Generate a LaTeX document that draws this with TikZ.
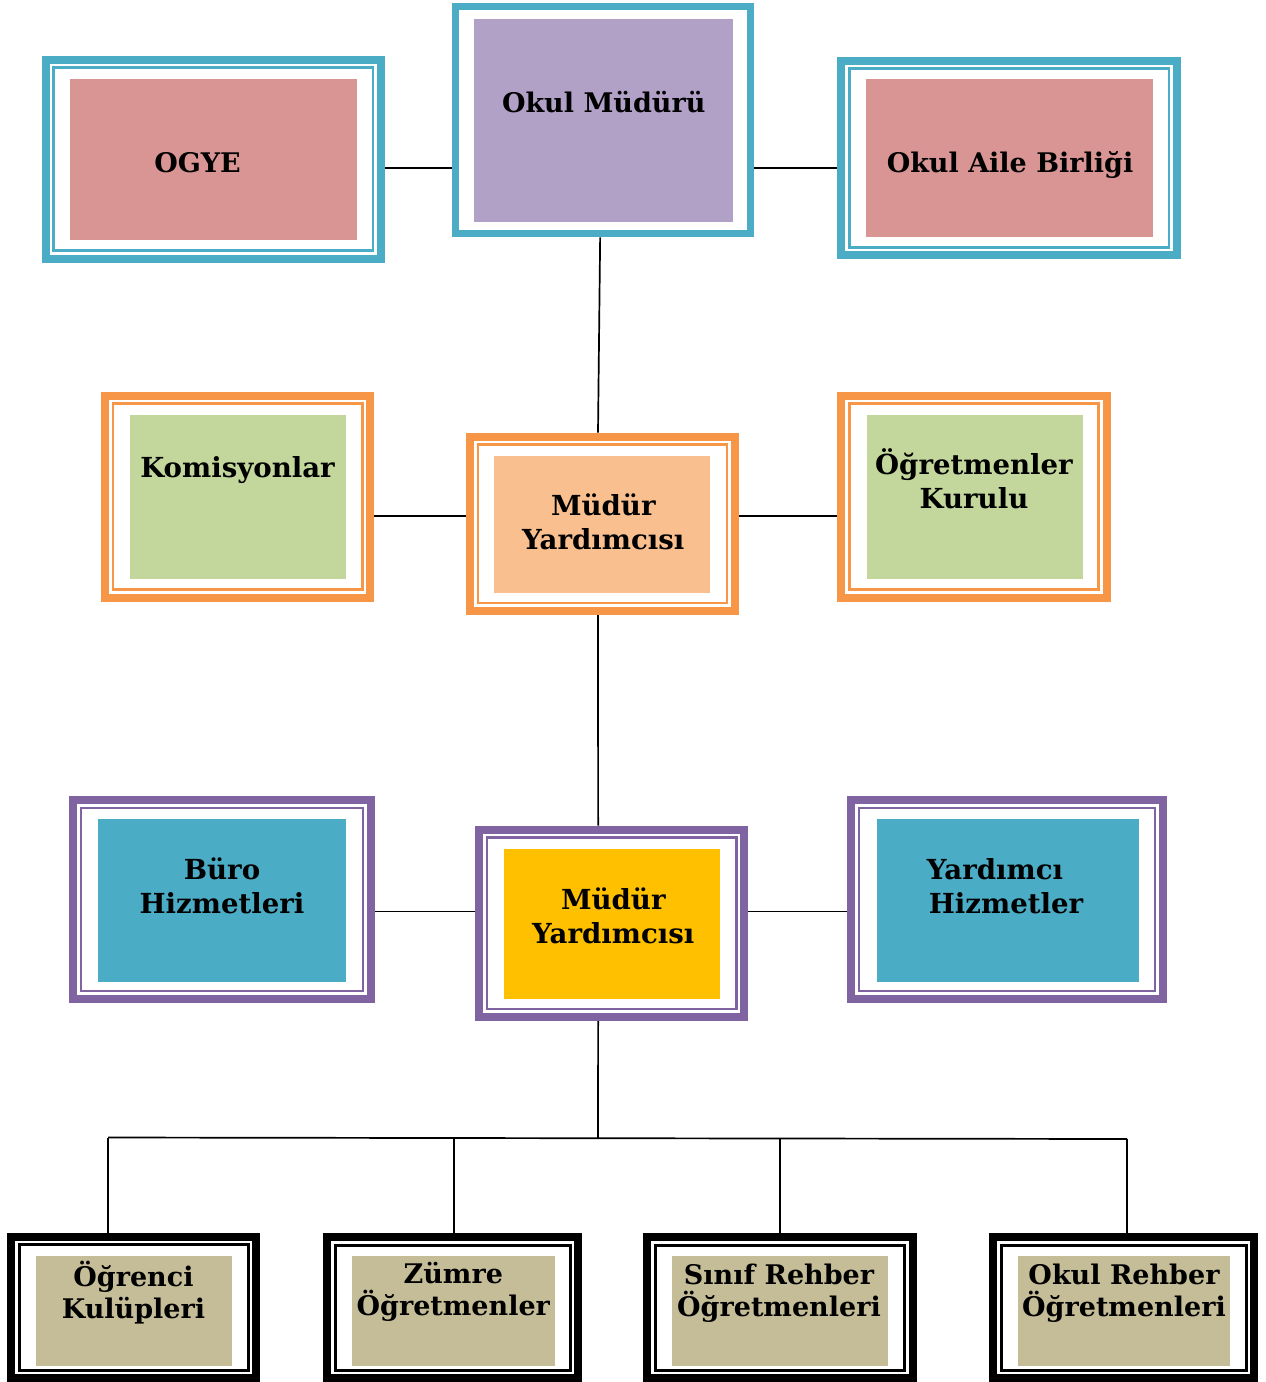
\documentclass[tikz,border=0pt]{standalone}
\usepackage{fontspec}
\setmainfont{DejaVu Serif}
\usetikzlibrary{calc}
\definecolor{frblue}{HTML}{4BACC6}
\definecolor{frorange}{HTML}{F79646}
\definecolor{frpurple}{HTML}{8064A2}
\definecolor{fipink}{HTML}{D99594}
\definecolor{filav}{HTML}{B2A1C7}
\definecolor{fipeach}{HTML}{FABF8F}
\definecolor{figreen}{HTML}{C3D69B}
\definecolor{fiyellow}{HTML}{FFC000}
\definecolor{fiblue}{HTML}{4BACC6}
\definecolor{fitan}{HTML}{C4BD97}
\newcommand\dframe[7]{%
  \node[draw=#6, line width=8pt, inner sep=0pt, minimum width={#4-#2-8}, minimum height={#5-#3-8}] (#1) at ({(#2+#4)/2},{(#3+#5)/2}) {};
  \node[draw=#6, line width=#7, inner sep=0pt, minimum width={#4-#2-24}, minimum height={#5-#3-24}] (#1-in) at (#1.center) {};
}
\newcommand\fillbox[6]{%
  \node[fill=#6, inner sep=0pt, minimum width={#4-#2}, minimum height={#5-#3}] (#1) at ({(#2+#4)/2},{(#3+#5)/2}) {};
}
\begin{document}
\begin{tikzpicture}[x=1pt,y=-1pt,
  lbl/.style={font=\fontsize{27}{33.5}\selectfont\bfseries, align=center, inner sep=0pt},
  lblm/.style={font=\fontsize{27.6}{33.5}\selectfont\bfseries, align=center, inner sep=0pt},
  lblb/.style={font=\fontsize{27}{32}\selectfont\bfseries, align=center, inner sep=0pt},
  conn/.style={line width=1.7pt, black}]
\fill[white] (0,0) rectangle (1266,1382);
\useasboundingbox (0,0) rectangle (1266,1382);

% ---- top row
\dframe{ogyeF}{41.7}{55.7}{385}{262.7}{frblue}{2.7pt}
\fillbox{ogyeB}{70}{79}{356.7}{240}{fipink}
\node[lbl] (ogye) at (197.5,162.2) {OGYE};

\node[draw=frblue, line width=7pt, inner sep=0pt, minimum width={754-452.3-7}, minimum height={237.3-3.3-7}] (mudurF) at ({(452.3+754)/2},{(3.3+237.3)/2}) {};
\fillbox{mudurB}{474}{19}{733}{221.7}{filav}
\node[lbl] (mudur) at (603.7,102) {Okul Müdürü};

\dframe{aileF}{837.3}{56.7}{1181}{259.3}{frblue}{2.7pt}
\fillbox{aileB}{866}{79}{1153}{236.7}{fipink}
\node[lbl] (aile) at (1010,164.7) {Okul Aile Birliği};

% ---- middle row
\dframe{komF}{101}{391.7}{374.3}{601.7}{frorange}{2.7pt}
\fillbox{komB}{130}{415}{346}{579}{figreen}
\node[lblm] (kom) at (237.5,469.7) {Komisyonlar};

\dframe{myaF}{466}{432.7}{739}{615}{frorange}{2.7pt}
\fillbox{myaB}{494}{455.7}{710}{592.7}{fipeach}
\node[lblm] (mya) at (603.3,522) {Müdür\\Yardımcısı};

\dframe{okF}{837.3}{391.7}{1110.7}{601.7}{frorange}{2.7pt}
\fillbox{okB}{866.7}{415}{1082.7}{579}{figreen}
\node[lblm] (ok) at (974,478.7) {Öğretmenler\\Kurulu};

% ---- third row
\dframe{buroF}{69}{796}{375}{1003}{frpurple}{2.7pt}
\fillbox{buroB}{98}{819}{346}{982}{fiblue}
\node[lblm] (buro) at (222,886) {Büro\\Hizmetleri};

\dframe{mybF}{475}{825.7}{748.3}{1021}{frpurple}{2.7pt}
\fillbox{mybB}{504}{849}{720}{999}{fiyellow}
\node[lblm] (myb) at (613.3,915.8) {Müdür\\Yardımcısı};

\dframe{yhF}{847}{796}{1167}{1003}{frpurple}{2.7pt}
\fillbox{yhB}{877}{819}{1139}{982}{fiblue}
\node[lblm] (yh) at (1006,886) {Yardımcı\hspace*{22pt}\\Hizmetler};

% ---- bottom row
\dframe{b1F}{7.3}{1232.7}{260}{1382}{black}{3pt}
\fillbox{b1B}{36}{1255.7}{232}{1365.7}{fitan}
\node[lblb] (b1) at (133.5,1293) {Öğrenci\\Kulüpleri};

\dframe{b2F}{323.3}{1233.3}{582.3}{1382}{black}{3pt}
\fillbox{b2B}{352.3}{1256}{555}{1365.7}{fitan}
\node[lblb] (b2) at (453.3,1292) {Zümre\\Öğretmenler};

\dframe{b3F}{643.3}{1233.3}{916.7}{1382}{black}{3pt}
\fillbox{b3B}{672.3}{1256}{887.7}{1365.7}{fitan}
\node[lblb] (b3) at (779,1293) {Sınıf Rehber\\Öğretmenleri};

\dframe{b4F}{989.3}{1233.3}{1258.3}{1382}{black}{3pt}
\fillbox{b4B}{1017.7}{1255.7}{1230}{1365.7}{fitan}
\node[lblb] (b4) at (1124,1293.3) {Okul Rehber\\Öğretmenleri};

% ---- connectors
\coordinate (ly1) at (0,168);
\coordinate (ly2) at (0,515.7);
\coordinate (ly3) at (0,911.5);
\draw[conn] (ogyeF.east |- ly1) -- (mudurF.west |- ly1);
\draw[conn] (mudurF.east |- ly1) -- (aileF.west |- ly1);
\draw[conn] (komF.east |- ly2) -- (myaF.west |- ly2);
\draw[conn] (myaF.east |- ly2) -- (okF.west |- ly2);
\draw[conn] (buroF.east |- ly3) -- (mybF.west |- ly3);
\draw[conn] (mybF.east |- ly3) -- (yhF.west |- ly3);
\draw[conn] ([xshift=-3pt]mudurF.south) -- ([xshift=-4.5pt]myaF.north);
\draw[conn] ([xshift=-4.5pt]myaF.south) -- ([xshift=-13.5pt]mybF.north);
\coordinate (bar) at (598,1138);
\coordinate (d1) at (108,1137.5);
\coordinate (d2) at (454,1138);
\coordinate (d3) at (780,1138.5);
\coordinate (d4) at (1127,1139);
\draw[conn] ([xshift=-13.5pt]mybF.south) -- (bar);
\draw[conn] (d1) -- (d4);
\draw[conn] (d1) -- (d1 |- b1F.north);
\draw[conn] (d2) -- (d2 |- b2F.north);
\draw[conn] (d3) -- (d3 |- b3F.north);
\draw[conn] (d4) -- (d4 |- b4F.north);
\end{tikzpicture}
\end{document}
